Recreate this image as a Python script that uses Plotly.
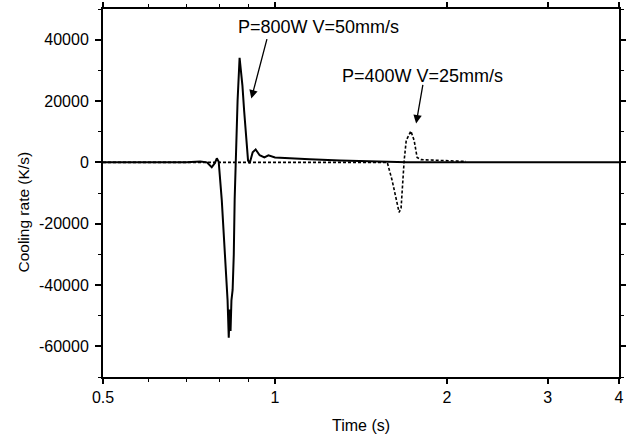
import math
import plotly.graph_objects as go

# 800 W, 50 mm/s (solid)
t_800 = [0.5, 0.70, 0.74, 0.76, 0.775, 0.785, 0.791, 0.797, 0.807, 0.813, 0.819,
         0.826, 0.830, 0.833, 0.836, 0.839, 0.843, 0.847, 0.850, 0.853, 0.860,
         0.867, 0.872, 0.877, 0.883, 0.890, 0.897, 0.903, 0.908, 0.914, 0.925,
         0.94, 0.958, 0.974, 1.0, 1.06, 1.15, 1.30, 1.46, 1.7, 4.0]
v_800 = [0, 0, 300, 0, -1600, -200, 1300, 200, -12400, -23000, -33500,
         -44900, -57200, -48000, -55000, -45000, -41600, -30000, -12000, 0, 20000,
         34100, 30000, 25000, 16900, 8800, 650, -300, 1500, 3300, 4200,
         2300, 1600, 2300, 1600, 1300, 1000, 600, 300, 0, 0]

# 400 W, 25 mm/s (dashed)
t_400 = [0.5, 1.572, 1.603, 1.630, 1.649, 1.662, 1.683, 1.697, 1.729, 1.752,
         1.773, 1.802, 1.85, 1.937, 2.05, 2.159]
v_400 = [0, 0, -5850, -12400, -16300, -15000, 650, 7150, 10200, 7150,
         1600, 870, 800, 600, 400, 300]

x_tickvals = [0.5, 1, 2, 3, 4]
x_ticktext = ["0.5", "1", "2", "3", "4"]
x_minor = [0.6, 0.7, 0.8, 0.9]
y_tickvals = [-60000, -40000, -20000, 0, 20000, 40000]
y_ticktext = ["-60000", "-40000", "-20000", "0", "20000", "40000"]

label_800 = "P=800W V=50mm/s"
label_400 = "P=400W V=25mm/s"
x_title = "Time (s)"
y_title = "Cooling rate (K/s)"

FONT = "Liberation Sans, Arial, sans-serif"

fig = go.Figure()
fig.add_trace(go.Scatter(x=t_400, y=v_400, mode="lines",
                         line=dict(color="black", width=1.6, dash="3px,2px"),
                         showlegend=False))
fig.add_trace(go.Scatter(x=t_800, y=v_800, mode="lines",
                         line=dict(color="black", width=2),
                         showlegend=False))

# arrows
fig.add_annotation(x=math.log10(0.909), y=20800, ax=16, ay=-61,
                   axref="pixel", ayref="pixel", text="", showarrow=True,
                   arrowhead=2, arrowsize=1.3, arrowwidth=1.3, arrowcolor="black")
fig.add_annotation(x=math.log10(1.766), y=12680, ax=7, ay=-40,
                   axref="pixel", ayref="pixel", text="", showarrow=True,
                   arrowhead=2, arrowsize=1.3, arrowwidth=1.3, arrowcolor="black")
# labels
fig.add_annotation(x=math.log10(1.193), y=44230, text=label_800, showarrow=False,
                   font=dict(family=FONT, size=18, color="black"))
fig.add_annotation(x=math.log10(1.809), y=28290, text=label_400, showarrow=False,
                   font=dict(family=FONT, size=18, color="black"))
# y-axis title (placed slightly below the plot centre, as in the reference)
fig.add_annotation(xref="paper", yref="paper", x=-0.155, y=0.447,
                   xanchor="center", yanchor="middle", textangle=-90,
                   text=y_title, showarrow=False,
                   font=dict(family=FONT, size=15.5, color="black"))

fig.update_xaxes(type="log", range=[math.log10(0.5), math.log10(4)],
                 tickmode="array", tickvals=x_tickvals, ticktext=x_ticktext,
                 ticks="outside", ticklen=5, tickwidth=1.5, tickcolor="black",
                 minor=dict(tickmode="array", tickvals=x_minor, ticks="outside",
                            ticklen=3, tickwidth=1, tickcolor="black"),
                 showline=True, linewidth=2, linecolor="black", mirror="ticks",
                 showgrid=False, zeroline=False,
                 tickfont=dict(family=FONT, size=16, color="black"),
                 title=dict(text=x_title, standoff=15,
                            font=dict(family=FONT, size=16, color="black")))
fig.update_yaxes(range=[-70000, 50000], tickmode="array",
                 tickvals=y_tickvals, ticktext=y_ticktext,
                 ticks="outside", ticklen=6, tickwidth=1.5, tickcolor="black",
                 minor=dict(tickmode="linear", tick0=0, dtick=10000, ticks="outside",
                            ticklen=3, tickwidth=1, tickcolor="black"),
                 showline=True, linewidth=2, linecolor="black", mirror="ticks",
                 showgrid=False, zeroline=False, ticklabelstandoff=3,
                 tickfont=dict(family=FONT, size=16, color="black"))

fig.update_layout(width=626, height=437,
                  margin=dict(l=103, r=7, t=9, b=60, autoexpand=False),
                  paper_bgcolor="white", plot_bgcolor="white")

fig.write_html("out.html")
